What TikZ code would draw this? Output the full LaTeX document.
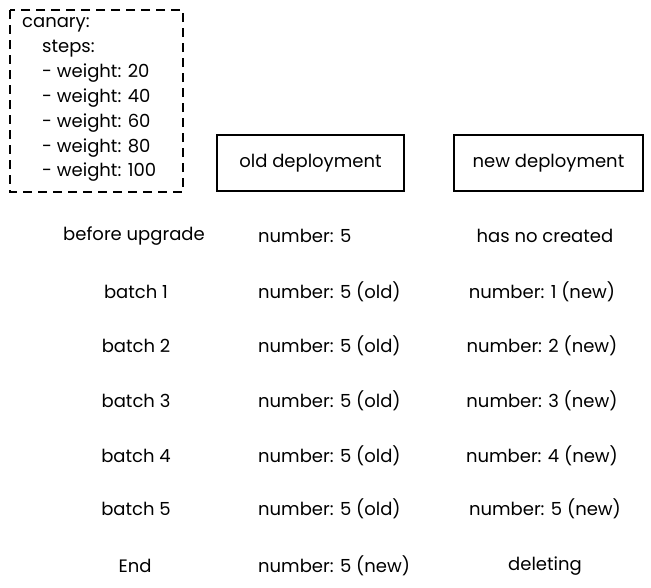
\documentclass[tikz,border=0pt]{standalone}
\usepackage{fontspec}
\setmainfont{Poppins}
\begin{document}
\begin{tikzpicture}[x=1pt,y=-1pt,
  txt/.style={font=\fontsize{18}{20}\selectfont, inner sep=0pt, text=black},
  ltxt/.style={txt, anchor=west},
  depbox/.style={draw=black, line width=1.3pt, minimum width=187pt, minimum height=56pt, font=\fontsize{18}{20}\selectfont},
  dashbox/.style={draw=black, line width=1.1pt, dash pattern=on 9pt off 6pt}]
\useasboundingbox (0,0) rectangle (651,587);
% canary config
\draw[dashbox] (10,10) rectangle (183,192);
\node[ltxt] (c0) at (22,25) {canary:};
\node[ltxt] (c1) at (42,49) {steps:};
\node[ltxt] (c2) at (42,73) {- weight: 20};
\node[ltxt] (c3) at (42,98) {- weight: 40};
\node[ltxt] (c4) at (42,123) {- weight: 60};
\node[ltxt] (c5) at (42,148) {- weight: 80};
\node[ltxt] (c6) at (42,172) {- weight: 100};
% headers
\node[depbox] (old) at (310.5,163) {old deployment};
\node[depbox, minimum width=189pt] (new) at (548.5,163) {new deployment};
% rows
\node[txt] (r0) at (134,236) {before upgrade};
\node[txt] (r1) at (136,292) {batch 1};
\node[txt] (r2) at (136,346) {batch 2};
\node[txt] (r3) at (136,401) {batch 3};
\node[txt] (r4) at (136,456) {batch 4};
\node[txt] (r5) at (136,509) {batch 5};
\node[txt] (r6) at (135,566) {End};
\node[ltxt] (o0) at (258,236) {number: 5};
\node[ltxt] (o1) at (258,292) {number: 5 (old)};
\node[ltxt] (o2) at (258,346) {number: 5 (old)};
\node[ltxt] (o3) at (258,401) {number: 5 (old)};
\node[ltxt] (o4) at (258,456) {number: 5 (old)};
\node[ltxt] (o5) at (258,509) {number: 5 (old)};
\node[ltxt] (o6) at (258,566) {number: 5 (new)};
\node[txt] (n0) at (545,236) {has no created};
\node[txt] (n1) at (542,292) {number: 1 (new)};
\node[txt] (n2) at (542,346) {number: 2 (new)};
\node[txt] (n3) at (542,401) {number: 3 (new)};
\node[txt] (n4) at (542,456) {number: 4 (new)};
\node[txt] (n5) at (545,509) {number: 5 (new)};
\node[txt] (n6) at (545,566) {deleting};
\end{tikzpicture}
\end{document}
